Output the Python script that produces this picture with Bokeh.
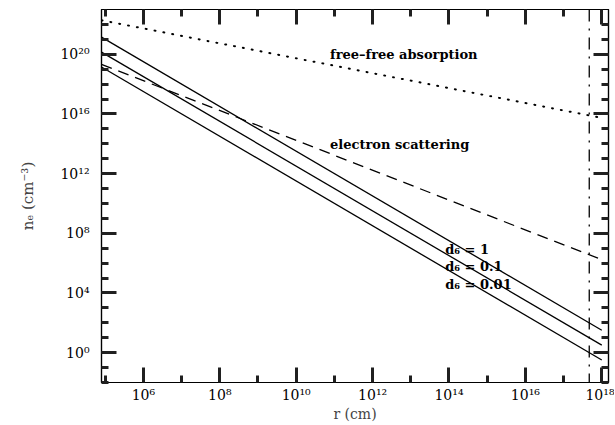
from bokeh.plotting import figure
from bokeh.models import ColumnDataSource, FixedTicker, LogAxis, Span
from bokeh.core.properties import value
from bokeh.embed import file_html
from bokeh.resources import INLINE

# ---------------- data ----------------
r_ends = [8e4, 1e18]                      # r (cm) at the ends of each straight line (log-log)
n_d6_1 = [1.4e21, 32.0]                   # d6 = 1
n_d6_01 = [1.4e20, 3.2]                   # d6 = 0.1
n_d6_001 = [1.4e19, 0.32]                 # d6 = 0.01
n_electron_scattering = [2.1e19, 1.7e6]   # dashed
n_free_free = [1.9e22, 5.4e15]            # dotted
r_vertical = 4.7e17                       # dash-dot vertical line

x_tick_vals = [1e6, 1e8, 1e10, 1e12, 1e14, 1e16, 1e18]
x_tick_labels = ["10⁶", "10⁸", "10¹⁰", "10¹²", "10¹⁴", "10¹⁶", "10¹⁸"]
x_minor_vals = [1e5, 1e7, 1e9, 1e11, 1e13, 1e15, 1e17]
y_tick_vals = [1e0, 1e4, 1e8, 1e12, 1e16, 1e20]
y_tick_labels = ["10⁰", "10⁴", "10⁸", "10¹²", "10¹⁶", "10²⁰"]
y_minor_vals = [10.0 ** k for k in range(-2, 24)]

label_texts = ["free\u2013free absorption", "electron scattering",
               "d₆ = 1", "d₆ = 0.1", "d₆ = 0.01"]
label_r = [7.7e10, 7.7e10, 8.0e13, 8.0e13, 8.0e13]
label_n = [1.0e20, 8.5e13, 8.1e6, 6.0e5, 3.8e4]

x_range = (8e4, 1.5e18)
y_range = (1e-2, 1e23)

FONT = "DejaVu Serif"
TICK_COLOR = "#202020"

p = figure(width=614, height=424, x_axis_type="log", y_axis_type="log",
           x_range=x_range, y_range=y_range,
           output_backend="svg", toolbar_location=None,
           min_border_left=101, min_border_right=6, min_border_top=9,
           min_border_bottom=38)
p.background_fill_color = "white"
p.border_fill_color = "white"
p.outline_line_color = "black"
p.outline_line_width = 1.2
p.xgrid.visible = False
p.ygrid.visible = False


def style_axis(ax, ticker, labels=None):
    ax.ticker = ticker
    ax.axis_line_color = "black"
    ax.axis_line_width = 1.2
    ax.major_tick_in = 15
    ax.major_tick_out = 0
    ax.minor_tick_in = 7
    ax.minor_tick_out = 0
    ax.major_tick_line_color = TICK_COLOR
    ax.minor_tick_line_color = TICK_COLOR
    ax.major_tick_line_width = 3
    ax.minor_tick_line_width = 3
    if labels is not None:
        ax.major_label_overrides = labels
        ax.major_label_text_font = FONT
        ax.major_label_text_font_size = "14px"
        ax.major_label_text_color = "black"
    else:
        ax.major_label_text_font_size = "0px"
        ax.major_label_text_color = None
        ax.major_label_standoff = 0


xa = p.xaxis[0]
style_axis(xa, FixedTicker(ticks=x_tick_vals, minor_ticks=x_minor_vals),
           {v: s for v, s in zip(x_tick_vals, x_tick_labels)})
xa.major_label_standoff = 4
xa.axis_label = "r (cm)"
xa.axis_label_text_font = FONT
xa.axis_label_text_font_size = "14px"
xa.axis_label_text_font_style = "normal"
xa.axis_label_standoff = 0

ya = p.yaxis[0]
style_axis(ya, FixedTicker(ticks=y_tick_vals, minor_ticks=y_minor_vals),
           {v: s for v, s in zip(y_tick_vals, y_tick_labels)})
ya.major_label_standoff = 12
ya.major_label_orientation = "horizontal"
ya.axis_label = "nₑ (cm⁻³)"
ya.axis_label_text_font = FONT
ya.axis_label_text_font_size = "15px"
ya.axis_label_text_font_style = "normal"
ya.axis_label_standoff = 20

top = LogAxis()
style_axis(top, FixedTicker(ticks=x_tick_vals, minor_ticks=x_minor_vals))
p.add_layout(top, "above")
right = LogAxis()
style_axis(right, FixedTicker(ticks=y_tick_vals, minor_ticks=y_minor_vals))
p.add_layout(right, "right")

# model lines
for n in (n_d6_1, n_d6_01, n_d6_001):
    p.line(r_ends, n, line_color="black", line_width=1.3)
p.line(r_ends, n_electron_scattering, line_color="black", line_width=1.3,
       line_dash="11 7")
p.line(r_ends, n_free_free, line_color="black", line_width=2.0,
       line_dash="1 8", line_cap="round")

vline = Span(location=r_vertical, dimension="height", line_color="black",
             line_width=1.3, line_dash="12 7 2 7")
p.add_layout(vline)

src = ColumnDataSource(dict(x=label_r, y=label_n, t=label_texts))
p.text(x="x", y="y", text="t", source=src, text_font=value(FONT),
       text_font_size="13px", text_font_style="bold", text_align="left",
       text_baseline="middle", text_color="black")

open("out.html", "w").write(file_html(p, INLINE))
